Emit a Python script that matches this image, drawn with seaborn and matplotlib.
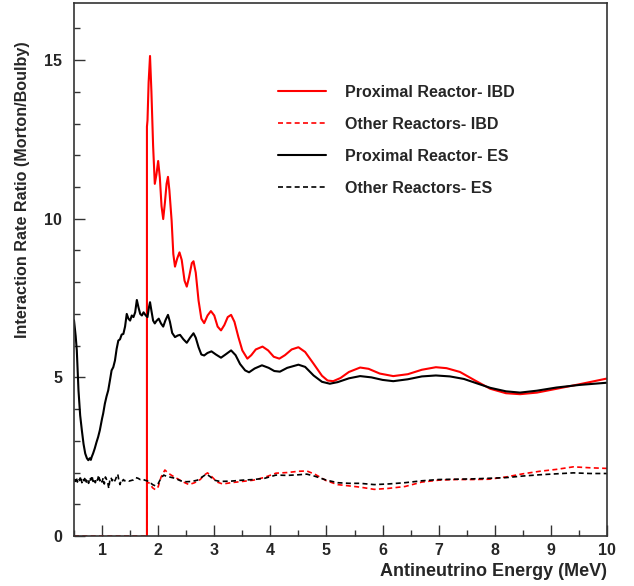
import numpy as np
import pandas as pd
import matplotlib
matplotlib.use("Agg")
import matplotlib.pyplot as plt
import seaborn as sns
from matplotlib.ticker import MultipleLocator

# ---------------- data ----------------
prox_ibd_x = [1.80, 1.80, 1.81, 1.83, 1.855, 1.88, 1.91, 1.94, 1.97, 2.00, 2.03, 2.06, 2.09, 2.12,
              2.15, 2.175, 2.20, 2.24, 2.27, 2.30, 2.34, 2.38, 2.42, 2.47, 2.51, 2.55, 2.60, 2.63,
              2.67, 2.72, 2.77, 2.82, 2.88, 2.94, 3.00, 3.06, 3.12, 3.18, 3.24, 3.30, 3.36, 3.43,
              3.50, 3.59, 3.66, 3.74, 3.86, 3.96, 4.06, 4.16, 4.26, 4.38, 4.50, 4.62, 4.77, 4.92,
              5.02, 5.12, 5.25, 5.40, 5.60, 5.75, 5.95, 6.19, 6.45, 6.70, 6.95, 7.14, 7.38, 7.65,
              7.92, 8.20, 8.45, 8.75, 9.10, 9.50, 9.99]
prox_ibd_y = [0.0, 12.9, 13.1, 14.3, 15.13, 14.0, 12.3, 11.1, 11.4, 11.82, 11.3, 10.4, 9.99, 10.5,
              11.1, 11.32, 10.9, 9.94, 8.89, 8.49, 8.75, 8.94, 8.7, 8.05, 7.86, 8.15, 8.6, 8.66,
              8.3, 7.42, 6.85, 6.71, 6.95, 7.09, 6.95, 6.6, 6.48, 6.65, 6.9, 6.97, 6.75, 6.27,
              5.85, 5.59, 5.7, 5.88, 5.97, 5.85, 5.65, 5.59, 5.7, 5.88, 5.95, 5.8, 5.43, 5.05,
              4.9, 4.88, 4.98, 5.17, 5.31, 5.27, 5.12, 5.04, 5.1, 5.24, 5.32, 5.29, 5.17, 4.9,
              4.64, 4.5, 4.47, 4.52, 4.64, 4.78, 4.96]

other_ibd_x = [0.50, 1.80, 1.80, 1.85, 1.90, 1.95, 2.00, 2.05, 2.12, 2.18, 2.25, 2.35, 2.45, 2.55,
               2.65, 2.75, 2.82, 2.88, 2.95, 3.05, 3.15, 3.30, 3.50, 3.70, 3.90, 4.10, 4.30, 4.50,
               4.65, 4.80, 5.00, 5.20, 5.40, 5.60, 5.85, 6.10, 6.40, 6.70, 7.00, 7.30, 7.60, 7.90,
               8.20, 8.50, 8.80, 9.10, 9.40, 9.70, 10.0]
other_ibd_y = [0.0, 0.0, 1.70, 1.66, 1.52, 1.46, 1.55, 1.85, 2.08, 1.98, 1.90, 1.80, 1.70, 1.62,
               1.68, 1.78, 1.92, 1.99, 1.88, 1.70, 1.64, 1.68, 1.72, 1.76, 1.85, 1.98, 2.00, 2.04,
               2.05, 1.94, 1.74, 1.62, 1.58, 1.54, 1.47, 1.50, 1.56, 1.70, 1.76, 1.78, 1.78, 1.79,
               1.86, 1.96, 2.04, 2.10, 2.18, 2.15, 2.13]

prox_es_x = [0.50, 0.53, 0.55, 0.58, 0.61, 0.64, 0.67, 0.70, 0.73, 0.755, 0.78, 0.80, 0.815, 0.84,
             0.87, 0.90, 0.93, 0.96, 1.00, 1.02, 1.05, 1.08, 1.11, 1.14, 1.17, 1.20, 1.23, 1.26,
             1.29, 1.32, 1.35, 1.38, 1.41, 1.44, 1.47, 1.50, 1.53, 1.56, 1.59, 1.62, 1.65, 1.68,
             1.71, 1.74, 1.78, 1.81, 1.835, 1.855, 1.88, 1.91, 1.94, 1.97, 2.01, 2.05, 2.09, 2.13,
             2.175, 2.21, 2.25, 2.30, 2.35, 2.39, 2.45, 2.51, 2.57, 2.63, 2.67, 2.72, 2.77, 2.82,
             2.88, 2.95, 3.03, 3.12, 3.20, 3.30, 3.38, 3.46, 3.55, 3.62, 3.72, 3.85, 3.97, 4.07,
             4.17, 4.30, 4.50, 4.62, 4.77, 4.92, 5.06, 5.20, 5.40, 5.60, 5.80, 6.00, 6.19, 6.45,
             6.70, 6.95, 7.20, 7.45, 7.70, 7.92, 8.20, 8.45, 8.75, 9.10, 9.50, 9.99]
prox_es_y = [6.8, 6.3, 5.85, 4.59, 3.8, 3.33, 2.9, 2.60, 2.45, 2.39, 2.45, 2.40, 2.49, 2.6,
             2.76, 2.95, 3.12, 3.33, 3.7, 3.86, 4.17, 4.4, 4.59, 4.9, 5.22, 5.32, 5.53, 5.9,
             6.16, 6.2, 6.35, 6.37, 6.6, 7.0, 6.85, 6.79, 6.95, 6.9, 7.05, 7.44, 7.2, 7.0,
             6.95, 7.05, 6.95, 6.90, 7.2, 7.37, 7.1, 6.79, 6.70, 6.78, 6.85, 6.7, 6.60, 6.8,
             6.97, 6.75, 6.4, 6.27, 6.32, 6.34, 6.2, 6.09, 6.25, 6.39, 6.25, 5.95, 5.72, 5.69,
             5.77, 5.82, 5.72, 5.62, 5.72, 5.85, 5.7, 5.42, 5.22, 5.16, 5.28, 5.38, 5.3, 5.2,
             5.18, 5.3, 5.40, 5.33, 5.06, 4.86, 4.80, 4.85, 4.97, 5.04, 5.0, 4.92, 4.88, 4.94,
             5.03, 5.06, 5.03, 4.95, 4.80, 4.67, 4.56, 4.52, 4.58, 4.68, 4.76, 4.83]

other_es_x = [0.50, 0.52, 0.54, 0.56, 0.58, 0.60, 0.62, 0.64, 0.66, 0.68, 0.70, 0.72, 0.74, 0.76,
              0.78, 0.80, 0.82, 0.84, 0.86, 0.88, 0.90, 0.92, 0.94, 0.96, 0.98, 1.00, 1.02, 1.04,
              1.06, 1.08, 1.10, 1.12, 1.14, 1.16, 1.18, 1.20, 1.22, 1.24, 1.26, 1.28, 1.30, 1.32,
              1.34, 1.36, 1.38, 1.40, 1.44, 1.48, 1.52, 1.56, 1.60, 1.64, 1.68, 1.72, 1.76, 1.80,
              1.85, 1.90, 1.95, 2.00, 2.05, 2.10, 2.15, 2.20, 2.30, 2.40, 2.50, 2.60, 2.70, 2.80,
              2.86, 2.92, 3.00, 3.10, 3.30, 3.50, 3.70, 3.90, 4.10, 4.30, 4.50, 4.65, 4.80, 5.00,
              5.20, 5.40, 5.60, 5.85, 6.10, 6.40, 6.70, 7.00, 7.30, 7.60, 7.90, 8.20, 8.50, 8.80,
              9.10, 9.40, 9.70, 10.0]
other_es_y = [1.80, 1.72, 1.85, 1.70, 1.82, 1.75, 1.88, 1.68, 1.80, 1.74, 1.86, 1.70, 1.79, 1.66,
              1.84, 1.76, 1.90, 1.72, 1.80, 1.68, 1.82, 1.76, 1.92, 1.74, 1.80, 1.70, 1.83, 1.64,
              1.86, 1.78, 1.70, 1.50, 1.78, 1.84, 1.74, 1.80, 1.72, 1.78, 1.88, 1.95, 1.75, 1.62,
              1.76, 1.72, 1.78, 1.74, 1.76, 1.73, 1.75, 1.77, 1.84, 1.82, 1.78, 1.80, 1.76, 1.74,
              1.70, 1.62, 1.58, 1.65, 1.82, 1.92, 1.88, 1.86, 1.82, 1.74, 1.71, 1.72, 1.76, 1.88,
              1.95, 1.88, 1.76, 1.72, 1.73, 1.76, 1.78, 1.82, 1.92, 1.91, 1.93, 1.95, 1.88, 1.76,
              1.68, 1.66, 1.66, 1.62, 1.64, 1.68, 1.74, 1.78, 1.79, 1.80, 1.82, 1.84, 1.89, 1.93,
              1.96, 1.99, 1.97, 1.97]

labels = ["Proximal Reactor- IBD", "Other Reactors- IBD",
          "Proximal Reactor- ES", "Other Reactors- ES"]
x_ticks = [1, 2, 3, 4, 5, 6, 7, 8, 9, 10]
y_ticks = [0, 5, 10, 15]

# ---------------- figure ----------------
sns.set_style("ticks")
plt.rcParams["font.family"] = ["Liberation Sans", "DejaVu Sans"]
plt.rcParams["font.weight"] = "bold"

fig = plt.figure(figsize=(6.34, 5.86), dpi=100)
ax = fig.add_axes([74 / 634, 1 - 536 / 586, (607 - 74) / 634, (536 - 3) / 586])

dash = (0, (3, 2))
series = [
    (prox_ibd_x, prox_ibd_y, "#ff0000", "-", 1.5, labels[0]),
    (other_ibd_x, other_ibd_y, "#ff0000", dash, 1.2, labels[1]),
    (prox_es_x, prox_es_y, "#000000", "-", 1.5, labels[2]),
    (other_es_x, other_es_y, "#000000", dash, 1.2, labels[3]),
]
for xs, ys, col, ls, lw, lab in series:
    sns.lineplot(x=xs, y=ys, estimator=None, sort=False, color=col,
                 linestyle=ls, linewidth=lw, label=lab, ax=ax)

ax.set_xlim(0.5, 10)
ax.set_ylim(0, 16.8)
ax.set_xticks(x_ticks)
ax.set_yticks(y_ticks)
ax.xaxis.set_minor_locator(MultipleLocator(0.5))
ax.yaxis.set_minor_locator(MultipleLocator(1))
ax.tick_params(which="both", direction="in", top=False, right=False,
               labelsize=11.5, width=1.0, color="#333333")
ax.tick_params(axis="x", which="both", pad=5)
ax.tick_params(axis="y", which="both", pad=8.5)
ax.tick_params(which="major", length=8)
ax.tick_params(which="minor", length=4.5)
for lbl in ax.get_xticklabels() + ax.get_yticklabels():
    lbl.set_fontweight("bold")
for sp in ax.spines.values():
    sp.set_visible(True)
    sp.set_linewidth(1.2)
    sp.set_color("#333333")

ax.set_xlabel("Antineutrino Energy (MeV)", fontsize=13, fontweight="bold", loc="right")
ax.xaxis.set_label_coords(1.0, -0.05)
ax.xaxis.label.set_verticalalignment("top")
ax.set_ylabel("Interaction Rate Ratio (Morton/Boulby)", fontsize=11.6, fontweight="bold", loc="top")
ax.yaxis.set_label_coords(-0.083, 0.928)

leg = ax.legend(loc="upper left", bbox_to_anchor=(0.368, 0.862), frameon=False,
                handlelength=3.0, handletextpad=1.2, labelspacing=1.07,
                borderpad=0, prop={"weight": "bold", "size": 11.5})

fig.savefig("out.png", dpi=100)
